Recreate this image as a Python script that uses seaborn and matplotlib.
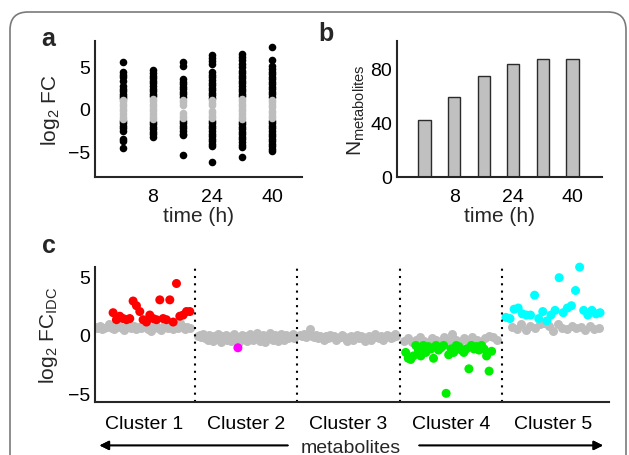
import numpy as np
import pandas as pd
import seaborn as sns
import matplotlib.pyplot as plt
from matplotlib.patches import FancyBboxPatch

# ---- panel a: log2 fold change per metabolite at each time point
times = [0, 8, 16, 24, 32, 40]
fc_0h = [5.5, 4.3, 4.0, 3.7, 3.3, 2.7, 2.4, 2.1, 1.8, 1.5, 1.3, 1.1, 0.9, 0.6, 0.3, 0.0,
         -0.3, -0.6, -0.9, -1.2, -1.4, -1.7, -2.0, -2.3, -2.6, -3.5, -3.8, -4.6]
fc_8h = [4.6, 4.2, 3.9, 3.6, 3.3, 3.0, 2.7, 2.4, 2.1, 1.8, 1.5, 1.2, 0.9, 0.6, 0.3, 0.0,
         -0.3, -0.6, -0.9, -1.2, -1.5, -1.8, -2.1, -2.4, -2.7, -3.0, -3.3]
fc_16h = [5.5, 5.1, 3.5, 3.2, 2.9, 2.6, 2.3, 2.0, 1.7, 1.4, 1.1, 0.8, 0.5, -0.5, -0.8,
          -1.1, -1.4, -1.7, -2.0, -2.3, -2.6, -2.9, -3.1, -5.4]
fc_24h = [6.4, 6.0, 5.6, 5.3, 4.3, 4.0, 3.7, 3.4, 3.1, 2.8, 2.5, 2.2, 1.9, 1.6, 1.3, 1.0,
          0.7, 0.4, -0.2, -0.5, -0.8, -1.1, -1.4, -1.7, -2.0, -2.3, -2.6, -2.9, -3.2,
          -3.5, -3.8, -4.1, -4.4, -6.3]
fc_32h = [6.5, 6.1, 5.7, 5.3, 4.9, 4.5, 4.2, 3.9, 3.6, 3.3, 3.0, 2.7, 2.4, 2.1, 1.8, 1.5,
          1.2, 0.9, 0.6, 0.3, 0.0, -0.3, -0.6, -0.9, -1.2, -1.5, -1.8, -2.1, -2.4, -2.7,
          -3.0, -3.3, -3.6, -3.9, -4.2, -4.5, -5.7]
fc_40h = [7.3, 5.8, 5.0, 4.7, 4.4, 4.1, 3.8, 3.5, 3.2, 2.9, 2.6, 2.3, 2.0, 1.7, 1.4, 1.1,
          0.8, 0.5, 0.2, -0.2, -0.5, -0.8, -1.1, -1.4, -1.7, -2.0, -2.3, -2.6, -2.9, -3.2,
          -3.5, -3.8, -4.1, -4.4, -4.7, -5.0]
fc_cut = 1.2

# ---- panel b: number of changed metabolites
n_metabolites = [42, 59, 74, 83, 87, 87]

# ---- panel c: log2 FC (IDC) per cluster
cluster_names = ["Cluster 1", "Cluster 2", "Cluster 3", "Cluster 4", "Cluster 5"]
c1_gray = [0.7, 0.6, 0.8, 0.5, 0.6, 0.7, 0.9, 0.6, 0.5, 0.7, 0.8, 0.6, 0.4, 0.7, 0.9, 0.6,
           0.8, 0.5, 0.7, 0.6, 0.8, 0.9, 0.5, 0.3, 0.7, 0.8, 0.6, 0.4, 0.7, 0.9, 0.6, 0.8,
           0.5, 0.7, 0.6, 1.0, 0.8, 0.5, 0.7, 0.6]
c1_red = [1.9, 1.3, 1.6, 1.4, 1.3, 1.4, 2.9, 2.5, 2.0, 1.3, 1.1, 1.7, 1.4, 1.3, 3.0, 1.4,
          1.3, 3.0, 1.1, 4.4, 1.6, 1.7, 2.0, 2.0]
c2_gray = [-0.1, 0.0, -0.2, 0.1, -0.3, -0.1, -0.4, 0.0, -0.2, -0.5, -0.1, -0.3, 0.1, -0.2,
           -0.6, -0.1, -0.3, 0.0, -0.4, -0.2, -0.5, -0.1, 0.1, -0.3, -0.2, -0.6, -0.4, 0.0,
           -0.2, -0.1, -0.5, -0.3, 0.1, -0.2, -0.4, -0.1, 0.2, -0.3, -0.5, -0.2, 0.0, -0.6,
           -0.1, -0.3, 0.2, -0.2, -0.4, 0.0, -0.1, -0.5, -0.3, 0.1, -0.2, -0.4, 0.0, -0.3,
           -0.1, -0.2, 0.1, -0.3]
c2_magenta = [-1.1]
c3_gray = [0.0, -0.1, 0.1, -0.2, 0.0, 0.5, -0.1, -0.2, 0.0, -0.3, -0.1, -0.2, -0.4, -0.1,
           -0.3, 0.0, -0.2, -0.1, -0.4, -0.3, -0.2, 0.0, -0.1, -0.3, -0.5, -0.2, -0.1, -0.4,
           -0.2, 0.0, -0.3, -0.1, -0.2, -0.5, -0.3, -0.1, -0.4, -0.2, 0.1, -0.2, -0.3, -0.1,
           -0.4, -0.2, 0.0, -0.1, -0.3, -0.2, 0.1, -0.1]
c4_gray = [-0.5, -0.3, -0.6, -0.4, -0.2, -0.5, -0.7, -0.3, -0.4, -0.6, -0.2, -0.5, 0.1, -0.4,
           -0.6, -0.3, -0.5, -0.2, -0.4, -0.6, -0.3, -0.1, -0.2, -0.4]
c4_green = [-1.5, -2.0, -2.1, -1.8, -0.9, -1.3, -1.8, -0.9, -1.5, -1.0, -1.2, -2.0, -0.9, -1.3,
            -1.1, -0.9, -5.0, -1.7, -1.2, -1.5, -0.9, -1.0, -1.3, -1.5, -1.2, -2.9, -0.9, -1.2,
            -1.0, -1.3, -0.9, -1.2, -1.8, -3.1, -1.4]
c5_gray = [0.7, 0.5, 0.9, 0.4, 0.8, 0.6, 0.9, 1.0, 0.8, 0.3, 0.9, 0.6, 0.5, 0.8, 0.6, 0.7,
           0.4, 0.8, 0.5, 0.6]
c5_cyan = [1.5, 1.4, 2.2, 2.3, 1.8, 1.7, 1.7, 3.4, 1.4, 2.0, 1.2, 1.7, 2.1, 4.9, 1.9, 2.3,
           2.5, 3.8, 5.8, 2.1, 1.7, 2.1, 1.8, 1.9]

GRAY = "#bdbdbd"

sns.set_style("white")
plt.rcParams["font.family"] = ["Liberation Sans", "DejaVu Sans"]
plt.rcParams["mathtext.fontset"] = "custom"
plt.rcParams["mathtext.rm"] = "Liberation Sans"
plt.rcParams["mathtext.it"] = "Liberation Sans:italic"
plt.rcParams["axes.linewidth"] = 1.5
plt.rcParams["xtick.major.size"] = 3
plt.rcParams["xtick.direction"] = "in"

fig = plt.figure(figsize=(6.29, 4.56), dpi=100)

# rounded frame around the whole figure
frame = FancyBboxPatch((0.10, -0.5), 6.16, 4.93, boxstyle="round,pad=0,rounding_size=0.18",
                       transform=fig.dpi_scale_trans, fill=False, edgecolor="#7a7a7a", lw=1.2)
fig.patches.append(frame)

ax_a = fig.add_axes([0.151, 0.610, 0.329, 0.298])
ax_b = fig.add_axes([0.631, 0.610, 0.326, 0.298])
ax_c = fig.add_axes([0.151, 0.116, 0.817, 0.296])

# ---- panel a
rows = []
for t, vals in zip(times, [fc_0h, fc_8h, fc_16h, fc_24h, fc_32h, fc_40h]):
    for v in vals:
        rows.append({"time": t, "fc": v, "sig": abs(v) > fc_cut})
df_a = pd.DataFrame(rows)
sns.scatterplot(data=df_a[df_a["sig"]], x="time", y="fc", color="black", s=30,
                linewidth=0, ax=ax_a)
sns.scatterplot(data=df_a[~df_a["sig"]], x="time", y="fc", color=GRAY, s=30,
                linewidth=0, ax=ax_a)
ax_a.set_xlim(-7.5, 48)
ax_a.set_ylim(-8, 8)
ax_a.set_xticks([8, 24, 40])
ax_a.set_yticks([-5, 0, 5])
ax_a.set_xlabel("time (h)", fontsize=15, labelpad=1)
ax_a.set_ylabel(r"log$_\mathregular{2}$ FC", fontsize=15, labelpad=4)

# ---- panel b
df_b = pd.DataFrame({"time": times, "n": n_metabolites})
sns.barplot(data=df_b, x="time", y="n", native_scale=True, width=0.42, color="#c0c0c0",
            edgecolor="#2b2b2b", linewidth=1.0, saturation=1, ax=ax_b)
ax_b.set_xlim(-7.5, 48)
ax_b.set_ylim(0, 100)
ax_b.set_xticks([8, 24, 40])
ax_b.set_yticks([0, 40, 80])
ax_b.set_xlabel("time (h)", fontsize=15, labelpad=1)
ax_b.set_ylabel(r"N$_\mathregular{metabolites}$", fontsize=15, labelpad=2)

# ---- panel c
series = [
    (0, c1_gray, "gray", (0.02, 0.95)), (0, c1_red, "red", (0.2, 0.95)),
    (1, c2_gray, "gray", (0.03, 0.97)), (1, c2_magenta, "magenta", (0.42, 0.42)),
    (2, c3_gray, "gray", (0.03, 0.97)),
    (3, c4_gray, "gray", (0.04, 0.95)), (3, c4_green, "green", (0.06, 0.9)),
    (4, c5_gray, "gray", (0.1, 0.95)), (4, c5_cyan, "cyan", (0.04, 0.96)),
]
rows = []
for k, vals, grp, (lo, hi) in series:
    for x, v in zip(k + np.linspace(lo, hi, len(vals)), vals):
        rows.append({"x": x, "fc": v, "group": grp})
df_c = pd.DataFrame(rows)
palette = {"gray": GRAY, "red": "#ff0000", "magenta": "#ff00ff", "green": "#00ee00",
           "cyan": "#00ffff"}
sns.scatterplot(data=df_c[df_c["group"] == "gray"], x="x", y="fc", color=GRAY, s=42,
                linewidth=0, ax=ax_c)
sns.scatterplot(data=df_c[df_c["group"] != "gray"], x="x", y="fc", hue="group",
                palette=palette, s=42, linewidth=0, legend=False, clip_on=False, ax=ax_c)
for b in range(1, 5):
    ax_c.axvline(b, color="black", ls=(0, (1, 2.5)), lw=1.5)
ax_c.set_xlim(0.023, 5.046)
ax_c.set_ylim(-5.75, 5.8)
ax_c.set_yticks([-5, 0, 5])
ax_c.set_xticks(np.arange(5) + 0.5)
ax_c.set_xticklabels(cluster_names)
ax_c.set_xlabel("")
ax_c.set_ylabel(r"log$_\mathregular{2}$ FC$_\mathregular{IDC}$", fontsize=15, labelpad=6)

for ax in (ax_a, ax_b, ax_c):
    sns.despine(ax=ax)
    ax.tick_params(labelsize=14, colors="black")
    ax.tick_params(axis="y", length=0)
for ax in (ax_a, ax_b):
    ax.tick_params(axis="x", pad=8)
ax_c.tick_params(axis="x", length=0, pad=9)

# metabolites arrow along the bottom edge
fig.text(0.557, 0.017, "metabolites", ha="center", va="center", fontsize=14)
fig.add_artist(plt.annotate("", xy=(0.154, 0.021), xytext=(0.462, 0.021),
                            xycoords="figure fraction",
                            arrowprops=dict(arrowstyle="-|>", color="black", lw=1.2,
                                            mutation_scale=14)))
fig.add_artist(plt.annotate("", xy=(0.963, 0.021), xytext=(0.662, 0.021),
                            xycoords="figure fraction",
                            arrowprops=dict(arrowstyle="-|>", color="black", lw=1.2,
                                            mutation_scale=14)))

# panel letters
fig.text(0.066, 0.9, "a", fontsize=18, fontweight="bold")
fig.text(0.506, 0.91, "b", fontsize=18, fontweight="bold")
fig.text(0.066, 0.445, "c", fontsize=18, fontweight="bold")

fig.savefig("out.png", dpi=100)
